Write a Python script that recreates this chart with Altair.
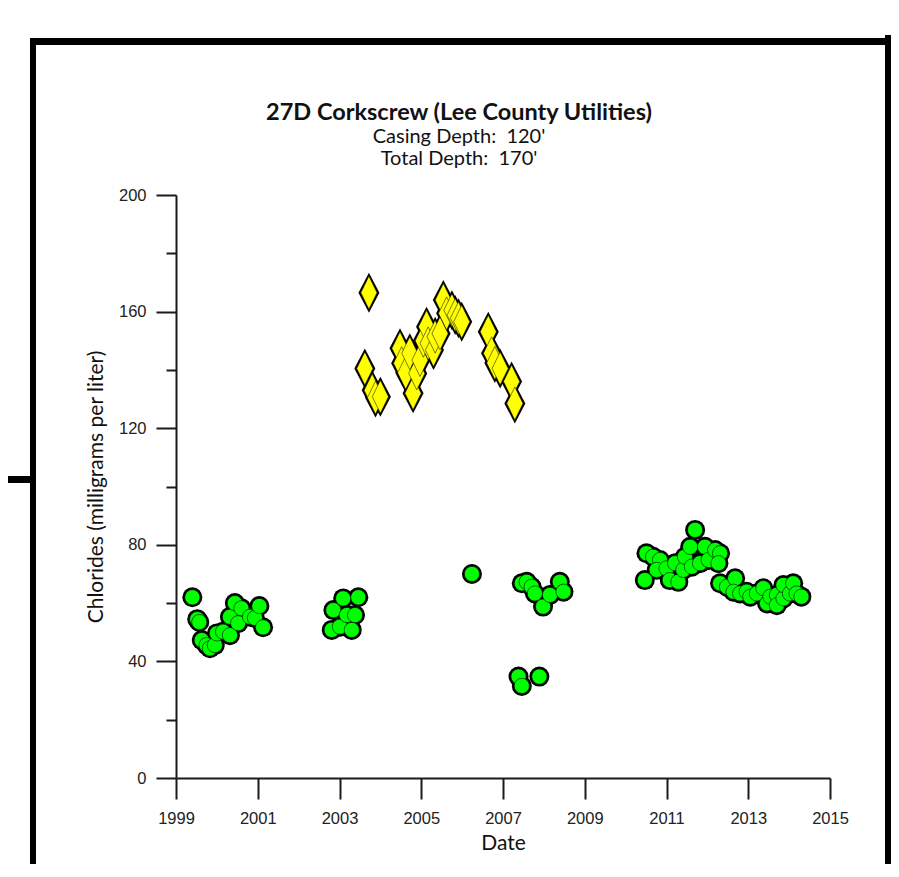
import altair as alt
import pandas as pd

# Green circles (decimal year, chlorides mg/L)
green_year = [1999.40, 1999.52, 1999.57, 1999.63, 1999.75, 1999.83, 1999.95, 2000.00,
              2000.15, 2000.32, 2000.32, 2000.44, 2000.60, 2000.52, 2000.81, 2000.93,
              2001.04, 2001.13,
              2002.81, 2002.85, 2003.01, 2003.09, 2003.18, 2003.30, 2003.38, 2003.46,
              2006.24,
              2007.46, 2007.58, 2007.70, 2007.78, 2007.98, 2008.15, 2008.39, 2008.48,
              2007.38, 2007.46, 2007.89,
              2010.47, 2010.51, 2010.67, 2010.84, 2010.76, 2011.00, 2011.08, 2011.29,
              2011.21, 2011.41, 2011.45, 2011.58, 2011.70, 2011.62, 2011.82, 2011.94,
              2012.03, 2012.19, 2012.31, 2012.27, 2012.31, 2012.48, 2012.68, 2012.64,
              2012.80, 2012.96, 2013.05, 2013.21, 2013.37, 2013.46, 2013.54, 2013.70,
              2013.70, 2013.86, 2013.86, 2014.02, 2014.10, 2014.18, 2014.30]
green_val = [62.0, 54.5, 53.5, 47.3, 45.6, 44.5, 45.6, 49.6,
             50.2, 49.0, 55.3, 60.0, 58.2, 53.1, 55.3, 54.9,
             59.0, 51.7,
             50.8, 57.6, 51.9, 61.6, 55.9, 50.8, 55.9, 62.0,
             70.0,
             66.8, 67.3, 65.6, 63.3, 58.8, 62.8, 67.3, 63.9,
             34.8, 31.6, 34.8,
             67.9, 77.1, 75.9, 74.8, 71.4, 71.9, 67.9, 67.3,
             73.7, 71.4, 75.9, 79.3, 85.1, 72.5, 73.7, 79.3,
             74.8, 78.2, 77.1, 73.7, 66.8, 65.6, 68.5, 63.9,
             63.3, 63.9, 62.2, 63.3, 65.1, 59.9, 62.2, 62.8,
             59.3, 61.6, 66.2, 63.3, 66.8, 63.3, 62.2]

# Yellow diamonds
yellow_year = [2003.72, 2003.62, 2003.80, 2003.88, 2004.00,
               2004.48, 2004.52, 2004.62, 2004.72, 2004.80, 2004.89, 2004.97, 2005.05,
               2005.13, 2005.17, 2005.30, 2005.34, 2005.46, 2005.54, 2005.62, 2005.75,
               2005.83, 2005.91, 2005.99,
               2006.64, 2006.72, 2006.80, 2006.93, 2007.21, 2007.29]
yellow_val = [166.5, 140.5, 133.0, 130.5, 130.8,
              147.4, 142.3, 139.0, 145.7, 132.0, 138.8, 143.4, 150.0,
              154.8, 149.1, 146.8, 151.4, 152.5, 164.0, 159.4, 160.5,
              158.8, 157.7, 156.5,
              153.1, 145.7, 142.4, 140.5, 136.0, 128.5]

x_ticks = [1999, 2001, 2003, 2005, 2007, 2009, 2011, 2013, 2015]
y_ticks = [0, 20, 40, 60, 80, 100, 120, 140, 160, 180, 200]

title_lines = ["27D Corkscrew (Lee County Utilities)",
               "Casing Depth:\u00a0 120'",
               "Total Depth:\u00a0 170'"]

green = pd.DataFrame({"year": green_year, "value": green_val})
yellow = pd.DataFrame({"year": yellow_year, "value": yellow_val})

AX = "#1a1a1a"
FONT = "Lato"
xscale = alt.Scale(domain=[1999, 2015], nice=False, zero=False)
yscale = alt.Scale(domain=[0, 200], nice=False)

xenc = alt.X("year:Q", scale=xscale, title="Date",
             axis=alt.Axis(values=x_ticks, format="d", grid=False, tickSize=21,
                           tickWidth=2, tickColor=AX, domainColor=AX, domainWidth=2,
                           labelFlush=False, labelOverlap=False,
                           labelFont="Liberation Sans", labelFontSize=16.5, labelColor="#222",
                           labelPadding=11, titleFont=FONT, titleFontSize=21,
                           titleFontWeight="normal", titleColor="#111", titlePadding=6))
yenc = alt.Y("value:Q", scale=yscale, title="Chlorides (milligrams per liter)",
             axis=alt.Axis(values=y_ticks, grid=False,
                           tickSize={"condition": {"test": "datum.value % 40 === 0", "value": 20}, "value": 10},
                           labelExpr="datum.value % 40 === 0 ? datum.label : ''",
                           labelFlush=False, labelOverlap=False,
                           tickWidth=2, tickColor=AX, domainColor=AX, domainWidth=2,
                           labelFont="Liberation Sans", labelFontSize=16.5, labelColor="#222",
                           labelPadding=10, titleFont=FONT, titleFontSize=21,
                           titleFontWeight="normal", titleColor="#111", titlePadding=12))

one = pd.DataFrame({"k": [0]})

def vrule(x, y1, y2, w):
    return alt.Chart(one).mark_rule(color="black", strokeWidth=w, strokeCap="square").encode(
        x=alt.value(x), y=alt.value(y1), y2=alt.value(y2))

def hrule(x1, x2, y, w):
    return alt.Chart(one).mark_rule(color="black", strokeWidth=w, strokeCap="butt").encode(
        x=alt.value(x1), x2=alt.value(x2), y=alt.value(y))

frame = [
    vrule(-143, -153.5, 700, 6),
    hrule(-146, 716, -153.5, 7),
    vrule(712, -157, 700, 6),
    hrule(-180, -143, 284.5, 7),
]

green_black = alt.Chart(green).mark_point(shape="circle", filled=True, color="black",
                                          size=400, opacity=1).encode(x=xenc, y=yenc)
green_fill = alt.Chart(green).mark_point(shape="circle", filled=True, fill="#00ff00",
                                         stroke="black", strokeWidth=0.6, size=232,
                                         opacity=1).encode(x=xenc, y=yenc)
yellow_black = alt.Chart(yellow).mark_point(shape="M0,-1L0.525,0L0,1L-0.525,0Z", filled=True,
                                            color="black", size=1600, opacity=1).encode(x=xenc, y=yenc)
yellow_fill = alt.Chart(yellow).mark_point(shape="M0,-1L0.49,0L0,1L-0.49,0Z", filled=True,
                                           fill="#ffff00", stroke="black", strokeWidth=0.5,
                                           size=1089, opacity=1).encode(x=xenc, y=yenc)

t1 = alt.Chart(one).mark_text(text=title_lines[0], font=FONT, fontSize=23.5, fontWeight="bold",
                              color="#111", align="center", baseline="alphabetic").encode(
    x=alt.value(283), y=alt.value(-75))
t2 = alt.Chart(one).mark_text(text=title_lines[1], font=FONT, fontSize=20,
                              color="#111", align="center", baseline="alphabetic").encode(
    x=alt.value(283), y=alt.value(-52))
t3 = alt.Chart(one).mark_text(text=title_lines[2], font=FONT, fontSize=20,
                              color="#111", align="center", baseline="alphabetic").encode(
    x=alt.value(283), y=alt.value(-30))

chart = alt.layer(*frame, green_black, green_fill, yellow_black, yellow_fill, t1, t2, t3).properties(
    width=654, height=583,
    background="white",
    autosize=alt.AutoSizeParams(type="none"),
    padding={"left": 168, "top": 187, "right": 61, "bottom": 86},
).configure_view(strokeWidth=0)

chart.save("out.html", embed_options={"renderer": "svg", "actions": False})
